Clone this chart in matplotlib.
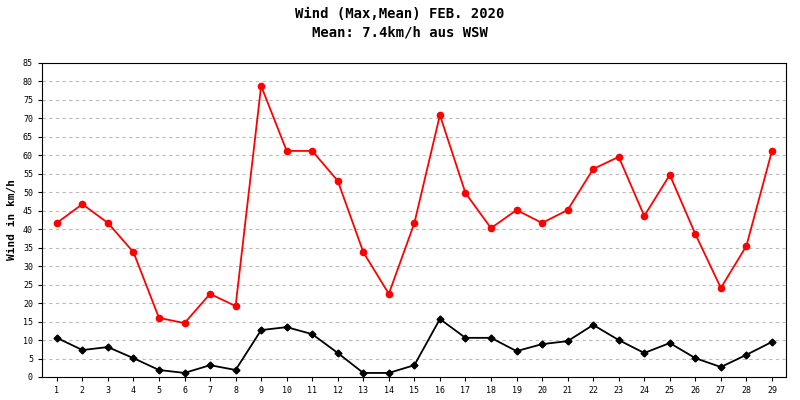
import matplotlib
matplotlib.use("Agg")
import matplotlib.pyplot as plt

days = list(range(1, 30))
wind_max = [41.7,46.8,41.7,33.8,16.0,14.6,22.5,19.2,78.8,61.2,61.2,53.1,33.8,22.5,41.7,70.9,49.8,40.3,45.2,41.7,45.2,56.3,59.6,43.6,54.7,38.7,24.1,35.5,61.2]
wind_mean = [10.6,7.3,8.1,5.1,1.9,1.1,3.2,1.9,12.7,13.5,11.6,6.5,1.1,1.1,3.2,15.7,10.6,10.6,7.0,8.9,9.7,14.1,10.0,6.5,9.2,5.1,2.7,6.0,9.5]
yticks = list(range(0, 90, 5))

fig = plt.figure(figsize=(8, 4), dpi=100)
ax = fig.add_axes([0.0525, 0.0575, 0.93, 0.785])
ax.set_xlim(0.42, 29.55)
ax.set_ylim(0, 85)
ax.set_yticks(yticks)
ax.set_xticks(days)
for s in ax.spines.values():
    s.set_linewidth(0.8)
for y in yticks[1:]:
    ax.axhline(y, color="#bbbbbb", lw=0.8, ls=(0, (3, 3)), zorder=0)
ax.plot(days, wind_max, color="#ff0000", marker="o", ms=4.5, lw=1.3)
ax.plot(days, wind_mean, color="#000000", marker="D", ms=3.5, lw=1.3)
ax.tick_params(labelsize=6, length=3)
for l in ax.get_xticklabels() + ax.get_yticklabels():
    l.set_family("DejaVu Sans Mono")
ax.set_ylabel("Wind in km/h", fontsize=8, family="DejaVu Sans Mono", fontweight="bold")
fig.text(0.5, 0.965, "Wind (Max,Mean) FEB. 2020", ha="center", va="center", fontsize=10, family="DejaVu Sans Mono", fontweight="bold")
fig.text(0.5, 0.92, "Mean: 7.4km/h aus WSW", ha="center", va="center", fontsize=10, family="DejaVu Sans Mono", fontweight="bold")
fig.savefig("out.png", dpi=100)
